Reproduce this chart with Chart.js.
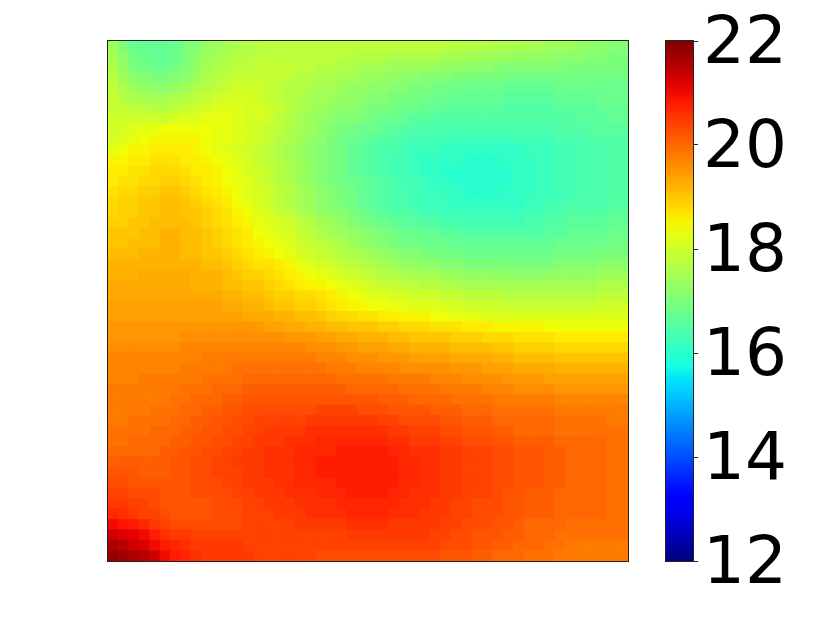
<!DOCTYPE html>
<html>
<head>
<meta charset="utf-8">
<script src="https://cdn.jsdelivr.net/npm/chart.js@4"></script>
<style>
  body { margin: 0; background: #fff; }
  canvas { position: absolute; top: 0; }
</style>
</head>
<body>
<canvas id="heat" width="640" height="617" style="left:0"></canvas>
<canvas id="bar" width="182" height="617" style="left:640px"></canvas>
<script>
// colour scale limits and colorbar ticks
const vMin = 12;
const vMax = 22;
const barTicks = [12, 14, 16, 18, 20, 22];

// values in tenths of a unit, one row per line, top row first
const rows = [
[174,170,168,167,167,167,168,170,171,173,174,175,176,177,177,178,178,178,178,178,178,178,178,178,178,178,178,178,178,178,178,178,178,177,177,177,177,176,176,176,175,175,174,174,174,173,172,172,171,171],
[175,172,169,168,167,167,168,170,172,174,175,176,177,177,178,178,178,178,178,178,178,178,178,177,177,177,177,176,176,176,176,176,175,175,175,175,174,174,174,173,173,173,173,172,172,172,171,171,170,170],
[176,173,170,169,168,168,169,171,173,175,176,177,178,178,179,179,179,179,178,178,177,177,176,176,175,175,175,174,174,174,174,174,173,173,172,172,172,171,171,171,171,171,171,171,170,170,170,170,170,170],
[177,174,172,171,170,170,171,172,174,176,177,178,179,179,179,179,179,178,177,177,176,176,175,175,174,174,173,173,172,172,171,171,171,170,170,170,170,170,169,169,169,169,169,169,169,169,169,169,169,169],
[178,176,174,173,172,172,173,174,176,177,178,179,180,180,180,179,178,177,177,176,175,175,174,173,173,172,172,171,171,170,170,169,169,168,168,168,168,168,167,167,167,167,167,168,168,168,168,168,168,168],
[179,177,176,175,175,175,176,177,178,179,180,181,181,181,180,179,178,177,176,175,175,174,173,173,172,171,171,170,170,169,169,168,168,167,167,167,167,167,166,166,166,166,166,167,167,167,167,168,168,168],
[179,179,178,178,177,177,178,179,180,181,182,182,182,181,181,180,179,177,176,175,174,173,172,172,171,170,170,169,168,168,167,167,166,166,166,166,166,166,165,165,165,165,165,166,166,166,166,167,167,167],
[180,180,180,180,180,180,181,182,182,183,183,183,182,181,181,180,178,177,175,174,173,172,171,171,170,169,168,168,167,166,166,165,165,165,165,165,165,165,165,165,165,165,165,165,165,166,166,166,167,167],
[180,181,182,183,183,184,184,184,184,184,183,183,182,181,180,179,178,176,175,174,172,171,170,169,168,168,167,166,165,165,164,164,164,164,164,164,164,164,164,164,164,164,164,165,165,165,165,166,166,166],
[181,182,183,184,185,185,185,185,185,184,183,183,182,181,180,179,177,176,174,173,172,170,169,168,167,166,165,165,164,163,163,163,163,162,162,162,162,162,162,163,163,163,163,164,164,164,165,165,165,165],
[183,184,185,185,186,186,186,186,185,184,183,182,181,180,179,178,176,175,174,172,171,170,169,167,166,165,164,164,163,162,162,162,161,161,161,161,161,161,161,161,162,162,162,163,163,164,164,164,165,165],
[185,185,186,186,187,187,187,186,186,185,184,183,182,181,179,178,177,175,174,172,171,170,169,167,166,165,164,163,163,162,161,161,161,161,160,160,160,160,161,161,161,162,162,163,163,164,164,164,165,165],
[186,186,187,187,188,188,188,187,186,186,185,184,183,181,180,179,177,176,174,173,171,170,169,167,166,165,164,163,163,162,161,161,160,160,160,160,160,160,160,161,161,162,162,163,163,164,164,164,165,165],
[186,187,187,188,188,189,189,188,187,186,185,184,183,182,180,179,177,176,174,173,171,170,169,168,167,166,165,164,163,163,162,161,161,160,160,160,160,160,160,161,161,162,162,163,163,164,164,164,165,165],
[187,188,188,189,189,190,190,189,188,187,186,185,184,182,181,180,178,177,175,174,172,171,170,169,167,166,165,164,164,163,162,162,161,161,160,160,160,160,161,161,161,162,162,163,163,164,164,164,165,165],
[188,189,189,190,190,191,191,190,189,188,187,186,184,183,181,180,178,177,175,174,172,171,170,169,167,166,165,164,164,163,162,162,162,161,161,161,161,161,161,161,162,162,163,163,164,164,164,164,165,165],
[188,189,189,190,190,191,191,190,190,189,188,187,185,184,182,181,179,178,176,175,173,172,171,170,168,167,166,165,165,164,163,163,162,162,162,162,162,162,162,162,163,163,164,164,165,165,165,165,166,166],
[189,189,190,190,191,191,191,191,190,189,188,187,186,185,183,182,181,180,178,177,175,174,173,171,170,169,168,167,166,166,165,165,164,164,163,163,163,163,163,163,164,164,165,165,166,166,166,166,167,167],
[190,190,190,191,191,192,192,191,191,190,189,188,187,186,184,183,182,181,179,178,176,175,174,173,172,171,170,169,168,168,167,167,166,166,165,165,165,165,165,165,165,165,166,166,167,167,167,167,168,168],
[190,190,191,191,191,192,192,191,191,190,189,188,187,186,185,184,183,182,180,179,178,177,176,174,173,172,171,170,169,169,168,168,168,167,167,167,167,167,167,167,167,167,167,168,168,168,168,168,169,169],
[191,191,191,192,192,192,192,191,191,190,190,189,188,187,186,185,184,183,181,180,179,178,177,176,175,174,173,172,171,171,170,170,169,169,168,168,168,168,168,168,168,168,168,169,169,169,169,170,170,170],
[192,192,192,192,192,192,192,192,192,191,191,190,189,188,187,187,186,185,183,182,181,180,179,178,177,176,175,174,173,173,172,172,171,171,170,170,170,170,170,170,170,170,170,171,171,171,171,172,172,172],
[192,192,192,193,193,193,193,193,192,192,192,191,190,189,189,188,187,186,185,184,183,182,181,180,179,178,177,176,176,175,175,175,174,174,173,173,173,173,172,172,172,172,173,173,173,173,173,174,174,174],
[193,193,193,193,193,193,193,193,192,192,192,191,191,190,190,189,188,187,186,185,185,184,183,182,181,180,179,179,178,178,177,177,176,176,175,175,175,175,175,175,175,175,175,175,175,175,175,176,176,176],
[193,193,193,193,193,193,193,193,193,193,193,192,192,191,191,190,189,189,188,188,187,186,185,184,183,182,182,181,181,180,180,180,179,179,178,178,178,178,177,177,177,177,177,177,177,177,177,178,178,178],
[194,194,194,194,194,194,194,194,194,194,194,193,193,192,192,191,190,190,189,189,188,187,186,185,185,184,184,183,183,182,182,182,181,181,180,180,180,180,179,179,179,179,179,179,179,179,179,180,180,180],
[194,194,194,194,194,194,194,194,194,194,194,194,194,193,193,193,192,192,191,191,190,189,188,188,187,187,186,186,185,185,185,184,184,183,183,183,182,182,182,182,182,182,182,182,182,182,182,182,182,182],
[195,195,195,195,195,195,195,195,195,195,195,195,195,195,195,194,194,193,193,192,192,191,191,190,190,190,189,189,188,188,188,187,187,187,186,186,186,185,185,185,185,185,184,184,184,184,184,184,184,184],
[195,195,195,195,195,195,195,196,196,196,196,196,196,196,196,196,196,195,195,195,194,194,193,193,192,192,192,191,191,190,190,190,190,189,189,189,188,188,188,187,187,187,187,186,186,186,186,186,186,186],
[196,196,196,196,196,196,196,197,197,197,197,197,197,197,197,197,197,197,197,196,196,196,195,195,194,194,194,193,193,192,192,192,192,191,191,191,191,190,190,189,189,189,189,188,188,188,188,188,188,188],
[197,197,197,197,197,197,197,197,197,198,198,198,198,198,198,198,198,198,198,198,197,197,197,196,196,196,195,195,195,194,194,194,194,193,193,193,193,192,192,191,191,191,191,190,190,190,190,190,190,190],
[197,197,197,197,197,197,197,198,198,198,198,198,199,199,199,199,199,199,199,199,199,198,198,198,197,197,197,197,196,196,196,196,196,195,195,195,194,194,194,193,193,193,193,192,192,192,192,192,192,192],
[197,197,197,198,198,198,198,198,198,199,199,199,199,200,200,200,200,200,200,200,200,200,199,199,199,199,199,198,198,198,198,197,197,197,196,196,196,196,195,195,195,195,194,194,194,194,194,194,194,194],
[198,198,198,198,198,198,198,199,199,199,200,200,200,201,201,201,201,201,201,201,201,201,201,200,200,200,200,200,199,199,199,199,198,198,198,198,197,197,197,196,196,196,196,195,195,195,195,195,195,195],
[198,198,198,198,198,198,199,199,200,200,200,201,201,202,202,202,202,202,202,202,202,202,202,202,202,202,201,201,201,200,200,200,200,199,199,199,199,198,198,198,198,198,198,197,197,197,197,197,197,197],
[198,198,198,198,199,199,199,200,200,201,201,202,202,203,203,203,203,203,203,203,204,204,204,204,203,203,203,202,202,202,202,201,201,201,200,200,200,199,199,199,199,199,199,198,198,198,198,198,198,198],
[198,198,199,199,199,199,200,200,201,201,202,202,203,203,204,204,204,204,204,205,205,205,205,205,205,205,204,204,203,203,203,203,202,202,201,201,201,200,200,200,200,200,200,199,199,199,199,199,198,198],
[199,199,199,199,200,200,200,201,201,202,202,203,203,204,204,205,205,205,205,206,206,206,206,206,206,206,206,205,205,204,204,204,203,203,202,202,202,201,201,200,200,200,200,199,199,199,199,199,199,199],
[199,199,200,200,200,200,201,201,202,202,203,203,204,204,205,205,205,206,206,206,207,207,207,207,207,207,207,206,206,205,205,205,204,204,203,203,203,202,202,201,201,201,201,200,200,200,200,200,199,199],
[200,200,200,200,200,201,201,202,202,203,203,204,204,205,205,206,206,206,207,207,207,207,208,208,208,208,208,207,207,206,206,206,205,205,204,204,204,203,203,202,202,202,201,201,200,200,200,200,199,199],
[201,201,201,201,201,201,202,202,203,203,204,204,205,205,205,206,206,206,207,207,208,208,208,208,208,208,208,208,207,207,206,206,205,205,204,204,204,203,203,202,202,202,201,201,200,200,200,200,199,199],
[202,202,202,201,201,201,202,202,203,203,204,204,204,205,205,206,206,206,207,207,208,208,208,208,208,208,208,208,207,207,206,206,205,205,204,204,204,203,203,202,202,202,201,201,200,200,200,200,199,199],
[203,203,202,202,202,202,202,202,203,203,203,204,204,205,205,205,206,206,207,207,207,207,208,208,208,208,208,208,207,207,206,206,205,205,204,204,204,203,203,202,202,202,201,201,200,200,200,200,199,199],
[204,204,203,203,203,202,202,202,203,203,203,203,204,204,205,205,205,206,206,206,207,207,207,208,208,208,208,207,207,206,206,206,205,205,204,204,204,203,202,202,201,201,201,200,200,200,200,200,199,199],
[205,205,204,204,203,202,202,202,202,202,203,203,203,204,204,205,205,205,206,206,206,206,207,207,207,207,207,207,206,206,206,205,205,204,204,203,203,203,202,202,201,201,201,200,200,200,200,200,199,199],
[207,206,205,204,204,203,202,202,202,202,203,203,203,204,204,204,205,205,205,206,206,206,206,207,207,207,207,206,206,206,205,205,205,204,204,203,203,203,202,202,201,201,201,200,200,200,200,200,199,199],
[210,209,208,207,205,204,203,203,203,203,203,203,203,204,204,204,204,204,205,205,205,205,205,206,206,206,206,205,205,205,205,205,204,204,203,203,203,202,202,201,200,200,200,200,199,199,199,199,199,199],
[213,212,211,210,208,206,205,205,204,204,204,204,204,204,204,204,204,204,204,204,204,204,204,205,205,205,205,205,205,205,205,204,204,203,203,202,202,202,201,201,200,200,200,199,199,199,199,199,199,199],
[216,215,213,212,210,208,207,206,205,205,205,205,205,204,204,204,204,204,204,204,204,204,204,204,204,204,204,204,204,204,204,204,203,203,203,202,202,201,201,200,200,200,199,199,198,198,198,198,198,198],
[218,217,216,215,213,210,208,207,206,205,205,205,205,205,204,204,204,204,204,204,203,203,203,203,203,203,203,203,203,203,203,203,202,202,202,201,201,200,200,200,199,199,199,198,198,198,198,198,198,198]
];

// jet colormap knots
const jetRed = [[0, 0], [0.35, 0], [0.66, 1], [0.89, 1], [1, 0.5]];
const jetGreen = [[0, 0], [0.125, 0], [0.375, 1], [0.64, 1], [0.91, 0], [1, 0]];
const jetBlue = [[0, 0.5], [0.11, 1], [0.34, 1], [0.65, 0], [1, 0]];

function channel(knots, t) {
  for (let i = 1; i < knots.length; i++) {
    if (t <= knots[i][0]) {
      const [t0, c0] = knots[i - 1];
      const [t1, c1] = knots[i];
      return Math.round(255 * (c0 + (c1 - c0) * (t - t0) / (t1 - t0)));
    }
  }
  return Math.round(255 * knots[knots.length - 1][1]);
}

function jet(v) {
  const t = Math.min(1, Math.max(0, (v - vMin) / (vMax - vMin)));
  return `rgb(${channel(jetRed, t)}, ${channel(jetGreen, t)}, ${channel(jetBlue, t)})`;
}

// black frame around the plot area
const frame = {
  id: 'frame',
  afterDraw(chart) {
    const { ctx, chartArea: a } = chart;
    ctx.save();
    ctx.strokeStyle = '#222';
    ctx.lineWidth = 1;
    ctx.strokeRect(Math.round(a.left) - 0.5, Math.round(a.top) - 0.5, Math.round(a.width) + 1, Math.round(a.height) + 1);
    ctx.restore();
  }
};

const cells = [];
rows.forEach((row, r) => {
  row.forEach((v, c) => {
    cells.push({ x: c + 0.5, y: r + 0.5, v: v / 10 });
  });
});

new Chart(document.getElementById('heat'), {
  type: 'scatter',
  data: {
    datasets: [{
      data: cells,
      pointStyle: 'rect',
      borderWidth: 0,
      backgroundColor: ctx => jet(ctx.raw ? ctx.raw.v : vMin),
      radius: ctx => {
        const area = ctx.chart.chartArea;
        return area ? area.width / rows[0].length / Math.SQRT2 + 0.5 : 7;
      }
    }]
  },
  options: {
    responsive: false,
    animation: false,
    layout: { padding: { left: 108, top: 41, right: 12, bottom: 56 } },
    plugins: { legend: { display: false }, tooltip: { enabled: false } },
    scales: {
      x: { type: 'linear', display: false, min: 0, max: rows[0].length },
      y: { type: 'linear', display: false, reverse: true, min: 0, max: rows.length }
    }
  },
  plugins: [frame]
});

new Chart(document.getElementById('bar'), {
  type: 'bar',
  data: {
    labels: [''],
    datasets: [{
      data: [[vMin, vMax]],
      barPercentage: 1,
      categoryPercentage: 1,
      backgroundColor(ctx) {
        if (!ctx.chart.chartArea) return '#000';
        const y = ctx.chart.scales.y;
        const g = ctx.chart.ctx.createLinearGradient(0, y.getPixelForValue(vMin), 0, y.getPixelForValue(vMax));
        for (let i = 0; i <= 40; i++) {
          g.addColorStop(i / 40, jet(vMin + (vMax - vMin) * i / 40));
        }
        return g;
      }
    }]
  },
  options: {
    responsive: false,
    animation: false,
    layout: { padding: { left: 26, top: 41, right: 0, bottom: 56 } },
    plugins: { legend: { display: false }, tooltip: { enabled: false } },
    scales: {
      x: { display: false },
      y: {
        position: 'right',
        min: vMin,
        max: vMax,
        afterFit(scale) { scale.width = 129; },
        afterBuildTicks(scale) { scale.ticks = barTicks.map(value => ({ value })); },
        border: { color: '#222' },
        grid: { drawOnChartArea: false, tickLength: 5, tickColor: '#222' },
        ticks: {
          color: '#000',
          padding: 5,
          labelOffset: 5,
          font: { family: 'DejaVu Sans', size: 66, lineHeight: 1 }
        }
      }
    }
  },
  plugins: [frame]
});
</script>
</body>
</html>
